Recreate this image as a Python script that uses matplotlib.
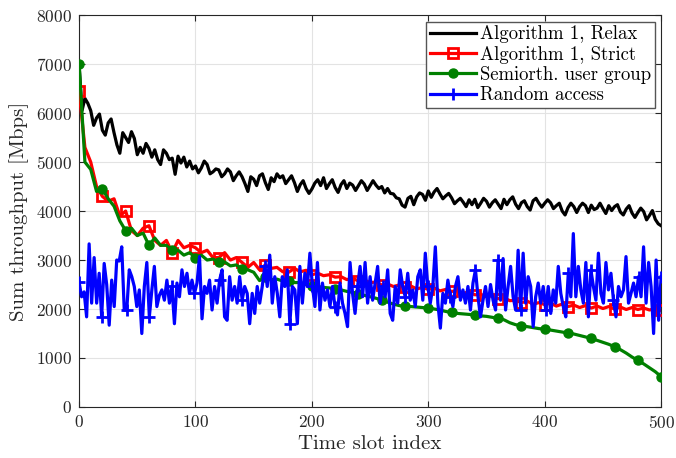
import numpy as np
import matplotlib
matplotlib.use("Agg")
import matplotlib.pyplot as plt

plt.rcParams['font.family'] = ['cmr10', 'DejaVu Serif']
plt.rcParams['mathtext.fontset'] = 'cm'
plt.rcParams['axes.formatter.use_mathtext'] = True

# ---------------- data ----------------
labels = ["Algorithm 1, Relax", "Algorithm 1, Strict",
          "Semiorth. user group", "Random access"]
x_ticks = [0, 100, 200, 300, 400, 500]
y_ticks = [0, 1000, 2000, 3000, 4000, 5000, 6000, 7000, 8000]

# Algorithm 1, Relax (every 2.5 slots)
relax = [7000, 6050, 6300, 6200, 6050, 5750, 5900, 5980, 5650, 5550,
         5800, 5880, 5600, 5350, 5180, 5600, 5500, 5400, 5620, 5480,
         5150, 5300, 5180, 5380, 5280, 5100, 5250, 5050, 4950, 5250,
         5180, 5050, 5080, 4750, 5120, 4980, 5100, 4900, 5020, 4860,
         4920, 4780, 4880, 5020, 4950, 4760, 4800, 4860, 4840, 4700,
         4760, 4860, 4800, 4620, 4720, 4800, 4700, 4560, 4400, 4700,
         4650, 4520, 4720, 4760, 4580, 4440, 4680, 4600, 4760, 4680,
         4720, 4560, 4640, 4720, 4580, 4400, 4540, 4620, 4460, 4360,
         4450, 4570, 4640, 4520, 4680, 4460, 4560, 4640, 4480, 4380,
         4540, 4620, 4460, 4570, 4530, 4420, 4520, 4620, 4550, 4420,
         4520, 4620, 4530, 4460, 4500, 4370, 4460, 4360, 4350, 4270,
         4250, 4120, 4080, 4260, 4300, 4130, 4290, 4370, 4340, 4220,
         4410, 4280, 4390, 4460, 4350, 4250, 4310, 4360, 4270, 4150,
         4210, 4260, 4180, 4090, 4230, 4130, 4240, 4070, 4160, 4260,
         4200, 4080, 4170, 4230, 4140, 4050, 4240, 4130, 4230, 4290,
         4140, 4050, 4170, 4210, 4090, 4020, 4210, 4260, 4160, 4080,
         4160, 4230, 4170, 4050, 4110, 4160, 4000, 3920, 4070, 4160,
         4090, 3970, 4090, 4160, 4110, 3970, 4120, 4030, 4060, 4160,
         4050, 3950, 4110, 4010, 4090, 4130, 3980, 3920, 4040, 4110,
         3960, 3870, 3970, 4060, 3990, 3820, 3910, 4010, 3830, 3740,
         3700]

# Algorithm 1, Strict (every 5 slots)
strict = [6450, 5300, 5000, 4500, 4300, 4200, 4250, 3900, 4000, 3600,
          3500, 3650, 3700, 3400, 3300, 3400, 3150, 3400, 3250, 3300,
          3250, 3150, 3200, 3050, 3050, 3150, 3000, 3050, 2950, 2850,
          2950, 2800, 2900, 2830, 2850, 2760, 2750, 2830, 2760, 2790,
          2700, 2730, 2680, 2700, 2650, 2660, 2600, 2630, 2570, 2590,
          2540, 2550, 2490, 2510, 2460, 2490, 2440, 2470, 2410, 2440,
          2400, 2430, 2370, 2400, 2360, 2370, 2320, 2350, 2290, 2300,
          2250, 2270, 2210, 2230, 2170, 2180, 2130, 2160, 2100, 2130,
          2090, 2120, 2060, 2100, 2050, 2080, 2030, 2070, 2020, 2060,
          2010, 2050, 2000, 2040, 1990, 2030, 1990, 2020, 1980, 2010,
          1970]

# Semiorth. user group (every 5 slots)
semiorth = [7000, 5000, 4850, 4400, 4450, 4250, 4100, 3800, 3600, 3650,
            3500, 3550, 3300, 3450, 3300, 3300, 3200, 3200, 3100, 3150,
            3050, 3100, 3000, 3020, 2950, 2960, 2880, 2900, 2820, 2800,
            2750, 2580, 2650, 2600, 2610, 2570, 2570, 2540, 2540, 2500,
            2480, 2460, 2440, 2430, 2410, 2390, 2360, 2340, 2310, 2280,
            2250, 2220, 2180, 2140, 2100, 2070, 2060, 2050, 2040, 2030,
            2020, 2000, 1980, 1950, 1930, 1910, 1900, 1890, 1880, 1860,
            1850, 1830, 1810, 1780, 1720, 1680, 1660, 1640, 1620, 1600,
            1590, 1570, 1550, 1530, 1510, 1490, 1460, 1430, 1400, 1360,
            1320, 1280, 1230, 1170, 1100, 1020, 950, 880, 800, 720,
            620]

# Random access (evenly spaced over slots 0..500)
random_access = [2550, 2250, 2350, 1840, 3330, 2120, 3050, 2120, 2730, 1840,
                 2930, 2500, 1670, 2590, 2050, 3000, 2980, 3270, 1980, 1980,
                 2800, 2660, 2460, 2050, 2390, 1500, 2460, 2950, 1840, 2390,
                 2870, 2050, 2280, 2390, 2180, 2590, 2120, 2460, 1700, 2530,
                 2250, 2800, 2460, 2730, 2320, 2590, 2320, 2530, 3070, 1800,
                 2460, 2320, 2590, 1980, 2460, 2120, 2590, 2800, 1840, 1770,
                 2660, 2180, 2460, 2120, 2660, 2180, 2460, 2320, 1700, 2320,
                 1910, 2460, 2120, 2460, 2870, 2460, 3100, 2120, 2660, 2320,
                 1840, 2660, 2460, 2800, 1700, 2460, 2390, 1700, 2870, 2120,
                 2730, 2460, 3140, 2460, 2050, 2950, 1980, 2530, 2180, 2390,
                 2050, 2460, 2050, 1880,
                 2530, 2120, 1910, 1640, 2950, 2320, 1910, 2460, 2870, 2250,
                 2950, 2120, 2660, 2180, 2530, 2870, 2120, 2460, 2250, 2800,
                 1910, 1770, 2460, 2120, 2800, 2460, 2250, 2730, 2180, 2390,
                 2050, 2660, 2800, 2180, 3140, 2460, 2120, 2460, 3270, 2120,
                 1610, 2320, 2120, 2590, 2250, 2050, 2460, 2660, 2180, 2390,
                 2120, 2460, 1980, 2530, 2800, 2250, 1840, 2180, 2460, 2050,
                 2500, 2180, 1980, 3000, 2180, 3030, 1980, 2460, 2870, 2250,
                 1980, 3200, 1980, 3140, 2120, 2660, 2460, 1640, 2250, 2530,
                 2120, 2460, 1980, 2460, 1910, 2390, 2120, 2870, 2320, 2050,
                 1840, 2730, 2250, 3540, 2250, 2870, 2390, 2120, 2950, 1840,
                 2800, 2460, 2180, 3140, 2320, 2120, 2950, 2390, 2730, 2180,
                 1840, 2460, 2250, 2390, 3070, 2120, 2320, 2530, 2250, 2660,
                 2250, 3270, 2120, 2950, 2460, 1500, 3000, 1770, 2660]

# ---------------- plot ----------------
x_relax = np.linspace(0, 500, len(relax))
x_strict = np.linspace(0, 500, len(strict))
x_semi = np.linspace(0, 500, len(semiorth))
x_rand = np.linspace(0, 500, len(random_access))

def marks(xs, step=20):
    return sorted(set(int(np.argmin(np.abs(xs - m))) for m in np.arange(0, 501, step)))

fig = plt.figure(figsize=(6.76, 4.58), dpi=100)
ax = fig.add_axes([0.117, 0.1114, 0.861, 0.8556])

lw = 2.3
ax.plot(x_relax, relax, color='black', lw=lw, label=labels[0], zorder=3)
ax.plot(x_strict, strict, color='red', lw=lw, marker='s', ms=6.5, mfc='none',
        mec='red', mew=2, markevery=marks(x_strict), label=labels[1], zorder=4)
ax.plot(x_semi, semiorth, color='green', lw=lw, marker='o', ms=6.5,
        mfc='green', mec='green', markevery=marks(x_semi), label=labels[2], zorder=5)
ax.plot(x_rand, random_access, color='blue', lw=lw, marker='+', ms=9, mew=2,
        markevery=marks(x_rand), label=labels[3], zorder=6)

ax.set_xlim(0, 500)
ax.set_ylim(0, 8000)
ax.set_xticks(x_ticks)
ax.set_yticks(y_ticks)
ax.tick_params(direction='in', top=True, right=True, length=4, width=0.8,
               labelsize=12.5, colors='#262626', pad=5)
ax.grid(True, color='#e3e3e3', lw=0.8, zorder=0)
ax.set_axisbelow(True)
for s in ax.spines.values():
    s.set_color('#262626')
    s.set_linewidth(0.8)

ax.set_xlabel('Time slot index', fontsize=15, color='#262626', labelpad=3)
ax.set_ylabel('Sum throughput [Mbps]', fontsize=15, color='#262626', labelpad=5)

leg = ax.legend(loc='upper right', fontsize=13.5, handlelength=2.45,
                handletextpad=0.2, borderpad=0.2, labelspacing=0.12,
                fancybox=False, framealpha=1, borderaxespad=0.35)
leg.get_frame().set_edgecolor('#555555')
leg.get_frame().set_linewidth(1.0)

fig.savefig('out.png', dpi=100)
